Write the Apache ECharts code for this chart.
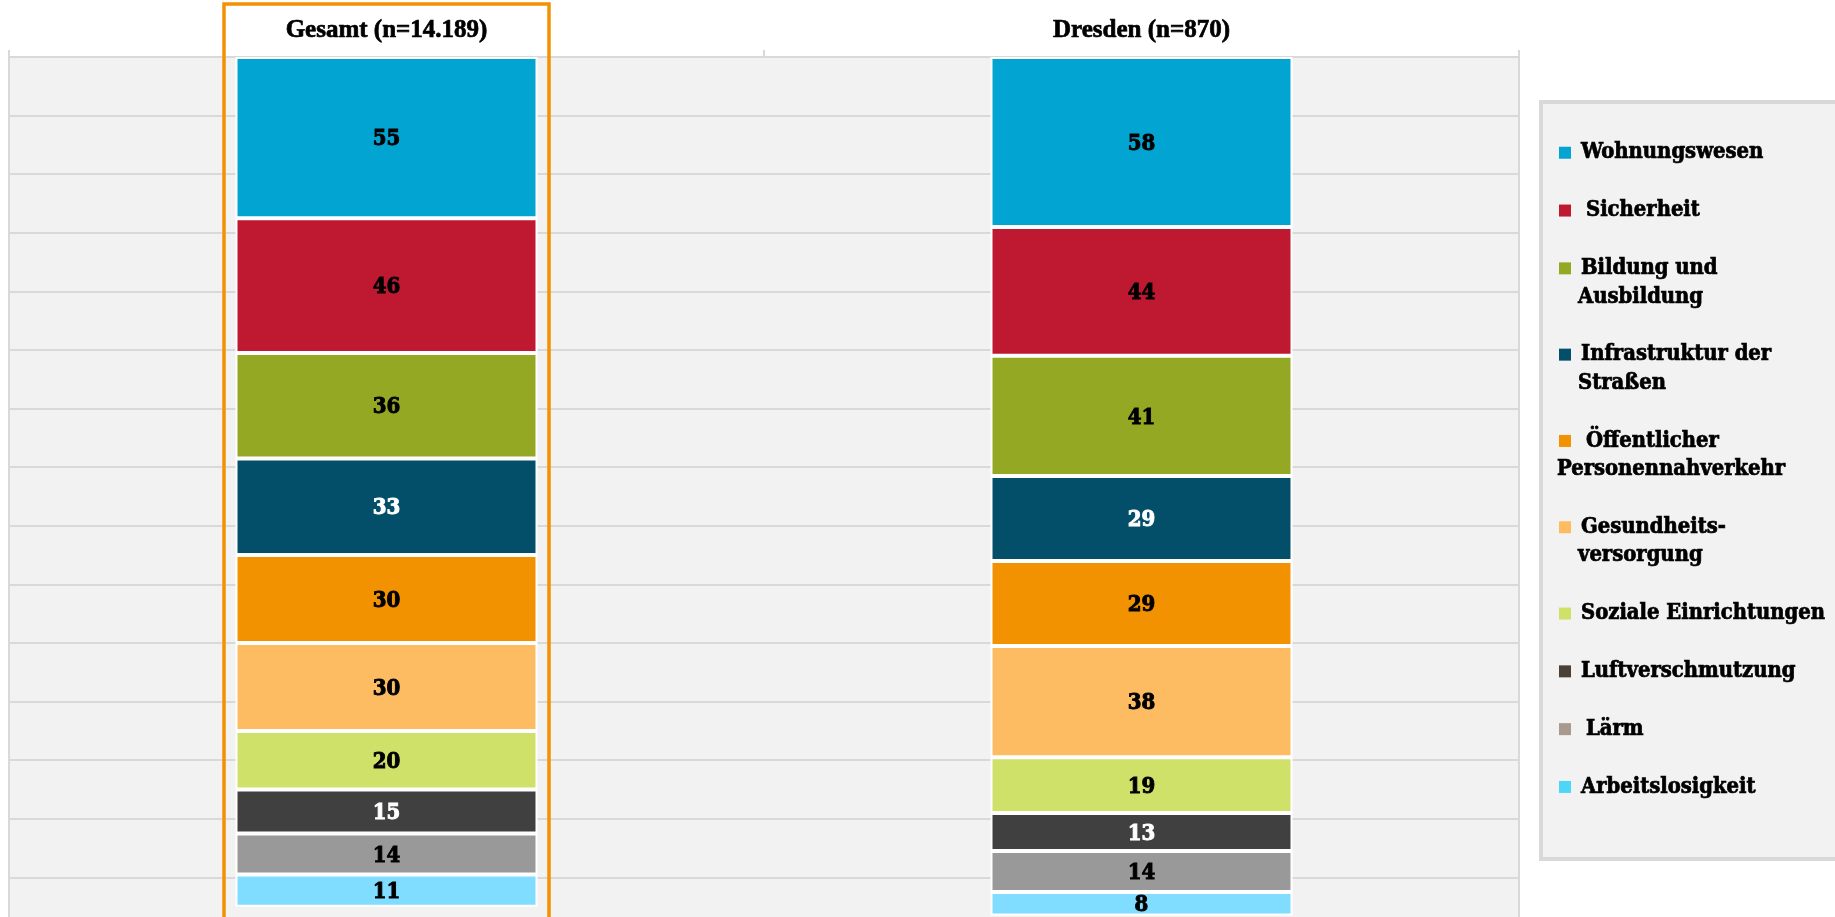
<!DOCTYPE html>
<html lang="de">
<head>
<meta charset="utf-8">
<title>Wichtigste Themen – Gesamt und Dresden</title>
<script src="https://cdn.jsdelivr.net/npm/echarts@6/dist/echarts.min.js"></script>
<style>
  html, body { margin: 0; padding: 0; background: #ffffff; }
  #chart { width: 1835px; height: 917px; }
</style>
</head>
<body>
<div id="chart"></div>
<script>
// Columns of the stacked chart
const categories = ['Gesamt (n=14.189)', 'Dresden (n=870)'];

// Topics, stacked from the top of each column downwards
const topics = [
  'Wohnungswesen',
  'Sicherheit',
  'Bildung und Ausbildung',
  'Infrastruktur der Straßen',
  'Öffentlicher Personennahverkehr',
  'Gesundheitsversorgung',
  'Soziale Einrichtungen',
  'Luftverschmutzung',
  'Lärm',
  'Arbeitslosigkeit'
];

// Shares per topic (in %)
const gesamtValues  = [55, 46, 36, 33, 30, 30, 20, 15, 14, 11];
const dresdenValues = [58, 44, 41, 29, 29, 38, 19, 13, 14, 8];

// Legend text, split into its lines
const legendLines = [
  ['Wohnungswesen'],
  ['Sicherheit'],
  ['Bildung und', 'Ausbildung'],
  ['Infrastruktur der', 'Straßen'],
  ['Öffentlicher', 'Personennahverkehr'],
  ['Gesundheits-', 'versorgung'],
  ['Soziale Einrichtungen'],
  ['Luftverschmutzung'],
  ['Lärm'],
  ['Arbeitslosigkeit']
];

// ---- styling ----
const barColors    = ['#02a4d1', '#be1931', '#95a823', '#034f69', '#f39200', '#fdbc62', '#d0e16a', '#404040', '#999999', '#80ddff'];
const keyColors    = ['#03a4d1', '#be1931', '#95a823', '#034f69', '#f39200', '#fdbc62', '#d0e16a', '#4a4036', '#a89a8e', '#4dd6f7'];
const valueColors  = ['#000', '#000', '#000', '#fff', '#000', '#000', '#000', '#fff', '#000', '#000'];
const wideGapAfterKey = [false, true, false, false, true, false, false, false, true, false];

const SERIF_COND = "'DejaVu Serif Condensed', 'DejaVu Serif', serif";
const GRID_LINE = '#d9d9d9';

const chart = echarts.init(document.getElementById('chart'), null, { renderer: 'canvas' });

// rich-text styles for the legend: coloured square plus spacers
const rich = {
  p:  { width: 2 },
  g:  { width: 10 },
  gw: { width: 15 },
  ind:{ width: 21 }
};
keyColors.forEach((c, i) => {
  rich['m' + i] = { width: 12, height: 12, backgroundColor: c, borderWidth: 0, textBorderWidth: 0 };
});

function legendText(name) {
  const i = topics.indexOf(name);
  const lines = legendLines[i];
  let s = '{p|}{m' + i + '|}{' + (wideGapAfterKey[i] ? 'gw' : 'g') + '|}' + lines[0];
  if (lines.length > 1) {
    // the long public-transport word hangs left, the others are indented
    s += '\n' + (i === 4 ? '' : '{ind|}') + lines[1];
  }
  return s;
}

const series = topics.map((name, i) => ({
  name: name,
  type: 'bar',
  stack: 'anteile',
  barWidth: 302,
  data: [gesamtValues[i], dresdenValues[i]],
  itemStyle: { color: barColors[i], borderColor: '#ffffff', borderWidth: 2 },
  label: {
    show: true,
    position: 'inside',
    offset: [0, 2],
    color: valueColors[i],
    fontFamily: SERIF_COND,
    fontWeight: 'bold',
    fontSize: 22,
    // a thin outline in the text colour gives the heavy figure weight
    textBorderColor: valueColors[i],
    textBorderWidth: 0.9
  },
  emphasis: { disabled: true }
}));

chart.setOption({
  animation: false,
  backgroundColor: '#ffffff',
  grid: {
    left: 9,
    top: 57,
    width: 1510,
    height: 879,
    show: true,
    backgroundColor: '#f2f2f2',
    borderColor: GRID_LINE,
    borderWidth: 2,
    containLabel: false,
    outerBoundsMode: 'none'
  },
  xAxis: {
    type: 'category',
    position: 'top',
    data: categories,
    axisLine: { show: true, lineStyle: { color: GRID_LINE, width: 2 } },
    axisTick: { show: true, length: 7, lineStyle: { color: GRID_LINE, width: 2 } },
    axisLabel: {
      color: '#000',
      fontFamily: "'Liberation Serif', serif",
      fontWeight: 'bold',
      fontSize: 25,
      margin: 13.5,
      textBorderColor: '#000',
      textBorderWidth: 0.7
    },
    splitLine: { show: false }
  },
  yAxis: {
    type: 'value',
    inverse: true,
    min: 0,
    max: 300,
    interval: 20,
    axisLine: { show: false },
    axisTick: { show: false },
    axisLabel: { show: false },
    splitLine: { show: true, lineStyle: { color: GRID_LINE, width: 2 } }
  },
  legend: {
    orient: 'vertical',
    left: 1552,
    top: 138.5,
    padding: 0,
    itemGap: 29.3,
    icon: 'none',
    itemWidth: 0,
    itemHeight: 1,
    selectedMode: false,
    data: topics,
    formatter: legendText,
    textStyle: {
      color: '#000',
      fontFamily: SERIF_COND,
      fontWeight: 'bold',
      fontSize: 21.8,
      lineHeight: 28.5,
      textBorderColor: '#000',
      textBorderWidth: 0.7,
      rich: rich
    }
  },
  graphic: [{
    id: 'keyBox',
    type: 'rect',
    z: 1,
    silent: true,
    shape: { x: 1541, y: 102, width: 400, height: 757 },
    style: { fill: '#f2f2f2', stroke: GRID_LINE, lineWidth: 4 }
  }],
  series: series
});

// orange frame around the overall column
const cx = chart.convertToPixel({ xAxisIndex: 0 }, categories[0]);
chart.setOption({
  graphic: [{
    id: 'highlight',
    type: 'rect',
    z: 10,
    silent: true,
    shape: { x: cx - 162.5, y: 4, width: 325, height: 1000 },
    style: { fill: 'none', stroke: '#f39200', lineWidth: 3.5 }
  }]
});
</script>
</body>
</html>
